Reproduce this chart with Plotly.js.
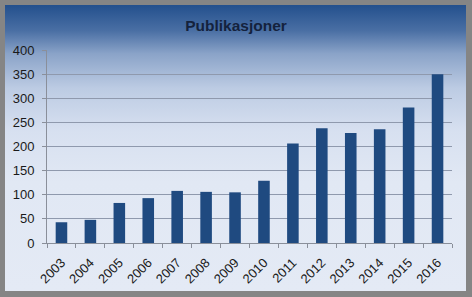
<!DOCTYPE html>
<html>
<head>
<meta charset="utf-8">
<script src="https://cdn.plot.ly/plotly-3.0.1.min.js"></script>
<style>
  html, body { margin: 0; padding: 0; width: 472px; height: 297px; background: #858585; overflow: hidden; }
  #panel { position: absolute; left: 5px; top: 5px; width: 461px; height: 286px;
    background: linear-gradient(to bottom, #23508d 0%, #4a6fa4 9%, #8aa3c8 17%, #bccbe3 29%, #d7e0f0 44%, #e1e8f4 62%, #e4eaf5 100%); }
  #chart { position: absolute; left: 0; top: 0; width: 472px; height: 297px; }
</style>
</head>
<body>
<div id="panel"></div>
<div id="chart"></div>
<script>
const years = ['2003','2004','2005','2006','2007','2008','2009','2010','2011','2012','2013','2014','2015','2016'];
const publications = [43, 48, 83, 93, 108, 106, 105, 129, 206, 238, 228, 236, 281, 350];
const yTicks = [0, 50, 100, 150, 200, 250, 300, 350, 400];
const gridTicks = [50, 100, 150, 200, 250, 300, 350];

const trace = {
  type: 'bar',
  x: years,
  y: publications,
  width: 0.4,
  marker: { color: '#1f4a80', line: { width: 0 } },
  hoverinfo: 'skip'
};

const layout = {
  width: 472, height: 297,
  margin: { l: 47, r: 20, t: 50, b: 54 },
  paper_bgcolor: 'rgba(0,0,0,0)',
  plot_bgcolor: 'rgba(0,0,0,0)',
  font: { family: 'Liberation Sans, Arial, sans-serif', color: '#1a1a1a', size: 13 },
  title: { text: '<b>Publikasjoner</b>', x: 0.5, xanchor: 'center', y: 0.915, yanchor: 'middle',
           font: { size: 15.5, color: '#14223d', family: 'Liberation Sans, Arial, sans-serif' } },
  showlegend: false,
  xaxis: {
    type: 'category',
    tickangle: -45,
    showgrid: false,
    showline: true, linecolor: '#8a8f9a', linewidth: 1,
    ticks: 'outside', ticklen: 4, tickcolor: '#8a8f9a', tickson: 'boundaries',
    tickfont: { size: 13, color: '#1a1a1a' },
    ticklabelstandoff: 6,
    fixedrange: true
  },
  yaxis: {
    range: [0, 400],
    tickvals: yTicks,
    ticktext: yTicks.map(String),
    showgrid: false,
    zeroline: false,
    showline: true, linecolor: '#8a8f9a', linewidth: 1,
    ticks: 'outside', ticklen: 4, tickcolor: '#8a8f9a',
    tickfont: { size: 13, color: '#1a1a1a' },
    ticklabelstandoff: 5,
    fixedrange: true
  },
  yaxis2: {
    overlaying: 'y',
    range: [0, 400],
    tickvals: gridTicks,
    showticklabels: false,
    showgrid: true, gridcolor: '#8f99ad', gridwidth: 1,
    zeroline: false, showline: false, ticks: '',
    layer: 'below traces',
    fixedrange: true
  }
};

const gridTrace = { type: 'scatter', x: [years[0]], y: [0], yaxis: 'y2', mode: 'none', hoverinfo: 'skip', showlegend: false };

Plotly.newPlot('chart', [gridTrace, trace], layout, { displayModeBar: false, staticPlot: true });
</script>
</body>
</html>
